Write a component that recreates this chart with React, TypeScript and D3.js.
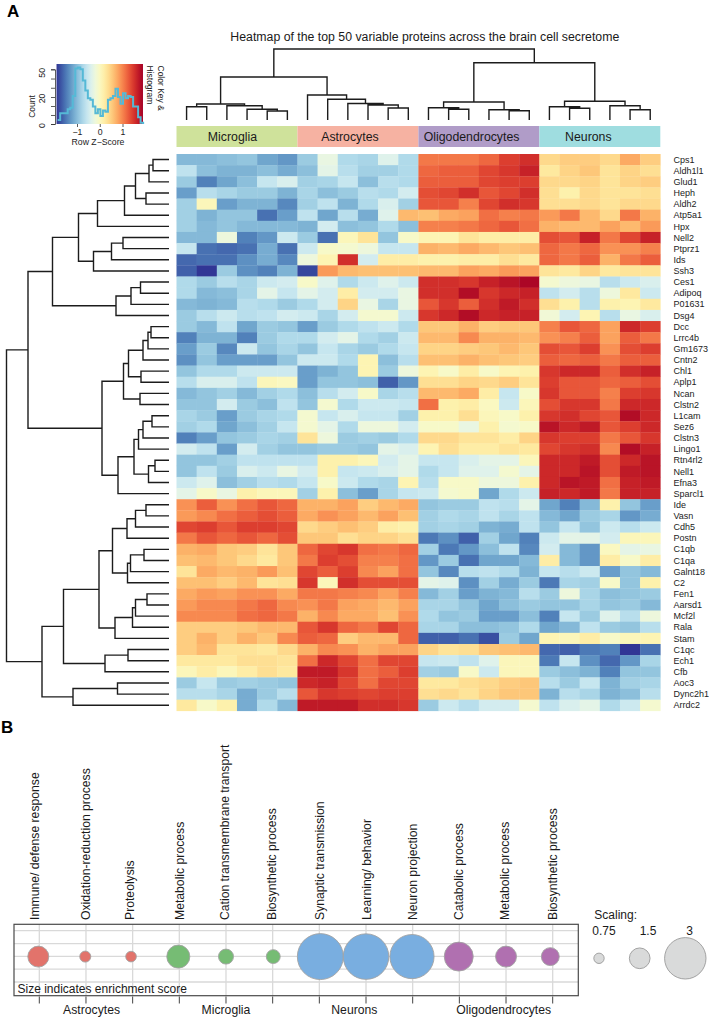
import * as React from 'react';
import { useEffect, useRef } from 'react';
import * as d3 from 'd3';

const FONT = '"Liberation Sans", Arial, sans-serif';

const cellTypes = ['Microglia', 'Astrocytes', 'Oligodendrocytes', 'Neurons'];
const cellTypeColors = ['#cfe29b', '#f6b2a2', '#b09cc8', '#9fdde0'];
const cellTypeLabelNudge = [-4.5, -8, -7.3, -11.5];

const rowLabels = [
  'Cps1', 'Aldh1l1', 'Glud1', 'Heph', 'Aldh2', 'Atp5a1', 'Hpx', 'Nell2', 'Ptprz1', 'Ids',
  'Ssh3', 'Ces1', 'Adipoq', 'P01631', 'Dsg4', 'Dcc', 'Lrrc4b', 'Gm1673', 'Cntn2', 'Chl1',
  'Aplp1', 'Ncan', 'Clstn2', 'L1cam', 'Sez6', 'Clstn3', 'Lingo1', 'Rtn4rl2', 'Nell1', 'Efna3',
  'Sparcl1', 'Ide', 'Vasn', 'Cdh5', 'Postn', 'C1qb', 'C1qa', 'Galnt18', 'C2', 'Fen1',
  'Aarsd1', 'Mcf2l', 'Rala', 'Stam', 'C1qc', 'Ech1', 'Cfb', 'Aoc3', 'Dync2h1', 'Arrdc2',
];

// row z-scores, 6 samples per cell type
const zScores = [
  [-1, -1, -.95, -.9, -1.15, -1.25, -.85, -.25, -.7, -.75, -.35, -.7, 1.05, 1.05, 1.05, 1.15, 1.4, 1.5, .4, .5, .5, .4, .75, .5],
  [-.6, -.95, -1.05, -1.05, -.95, -1.1, -.95, -.3, -.65, -.8, -.8, -.7, 1.15, 1.2, 1.2, 1.35, 1.45, 1.6, .25, .45, .55, .3, .45, .35],
  [-.85, -1.4, -1.15, -.95, -.55, -.4, -.8, -.75, -.55, -.95, -.65, -.7, 1.2, 1.2, 1.2, 1.35, 1.4, 1.4, .4, .4, .45, .3, .45, .5],
  [-1.2, -.65, -.75, -.85, -.85, -1.05, -.75, -.95, -.85, -.65, -.7, -.45, 1.3, 1.35, 1.5, 1.25, 1.35, 1.5, .35, .15, .4, .3, .3, .35],
  [-.8, .05, -1.2, -1.05, -1.05, -1.35, -.8, -.6, -1.05, -.7, -.4, -.8, 1.25, 1.25, 1, 1.35, 1.5, 1.45, .35, .35, .4, .3, .4, .4],
  [-.8, -1.05, -.9, -.9, -1.5, -1.2, -.6, -1.15, -.65, -1.1, -.35, .65, .6, .75, .8, 1.1, 1, 1.05, .85, 1.05, .65, .4, 1.05, .7],
  [-.8, -1, -.9, -1, -1, -1, -1.05, -.45, -.95, -.9, -.7, -.95, 1, 1, 1.05, 1.15, 1.25, 1.1, .7, .65, .65, .8, .65, .85],
  [-1, -1, -.2, -1.4, -1.25, -.5, -.85, -1.5, .05, .3, -.9, -.05, .1, .1, .3, .2, .2, .2, 1.3, 1.25, 1.6, 1.05, 1.35, 1.6],
  [-.55, -1.5, -1.55, -1.5, -1.1, -1.5, -.5, -.05, -.1, -.2, -.55, -.55, .7, .65, .75, .65, .55, .6, 1.15, 1.05, 1.15, .9, .9, 1],
  [-1.55, -1.5, -1.5, -1.3, -1.1, -1.35, -.2, .1, 1.5, -.45, .2, .2, .15, .15, .2, .2, .35, .25, 1.15, 1.05, 1.2, .7, 1.05, 1.2],
  [-1.6, -1.85, -.85, -1.3, -1.4, -1.05, -1.75, .85, .65, .6, .6, .6, .65, .65, .8, .75, .85, .8, .3, .25, .45, .25, .3, .3],
  [-.7, -.85, -.65, -.75, -.5, -.45, -.05, -.35, -.7, -.5, -.35, -.5, 1.5, 1.5, 1.45, 1.6, 1.7, 1.8, -.1, -.2, -.25, -.65, -.5, -.4],
  [-.7, -1, -.95, -.75, -.3, -.55, -.3, -.45, .2, -.45, -.45, -.25, 1.5, 1.5, 1.75, 1.45, 1.55, 1.6, -.6, -.45, -.65, -.2, .25, -.5],
  [-1, -1.05, -1, -.65, -.7, -.85, -.7, -.45, .45, -.25, -.75, -.25, 1.25, 1.45, 1.2, 1.5, 1.65, 1.5, .35, .15, -.65, .15, .1, .25],
  [-.85, -.65, -.5, -.65, -.6, -.45, -.5, -.75, -.45, -.1, -.1, -.5, 1.45, 1.55, 1.75, 1.55, 1.6, 1.6, -.15, -.45, .1, -.65, -.25, -.4],
  [-.85, -1, -.6, -1.15, -.85, -.9, -1.2, -.85, -.7, -.6, -.5, -.7, .55, .55, .7, .5, .55, .55, 1, 1.25, 1.15, .8, 1.55, 1.4],
  [-1.4, -1.05, -1.05, -1.4, -.85, -.7, -.7, -.45, -.3, -.7, -.8, -.5, .65, .65, .95, .7, .7, .65, .9, 1, 1.2, .8, 1.2, 1.05],
  [-1.2, -.85, -1.35, -.5, -.9, -.75, -.9, -.55, -.75, -.85, -.7, -.55, .45, .45, .5, .55, .65, .55, 1.3, 1.25, 1.4, .9, 1.3, 1.4],
  [-1.3, -.9, -1.2, -1.2, -1.2, -.9, -.5, -.5, -.7, .1, -.95, -.65, .6, .6, .7, .6, .55, .5, 1.2, 1.15, 1.2, 1.05, 1.2, 1.2],
  [-.9, -.7, -.7, -.5, -.5, -.5, -1.2, -1.05, -.9, .1, -.85, -.2, .1, -.05, .2, -.05, .1, .15, 1.45, 1.55, 1.55, 1.2, 1.5, 1.6],
  [-.65, -.4, -.4, -.6, .05, 0, -1.2, -.9, -.9, -.95, -1.6, -1.25, .35, .35, .45, .4, .5, .3, 1.4, 1.25, 1.25, 1.15, 1.2, 1.3],
  [-1, -.9, -.8, -1, -.8, -.7, -.95, -.65, -.45, -.05, -.75, -.65, .65, .65, .75, .2, -.55, -.05, 1.45, 1.25, 1.25, 1, 1.4, 1.45],
  [-.9, -.9, -.45, -.85, -.95, -.6, -.9, -.1, -.7, -.5, -.5, -.55, 1.1, .15, .2, 0, -.5, .05, 1.3, 1.45, 1.45, 1.05, 1.55, 1.55],
  [-.75, -.85, -1.2, -.85, -.75, -.7, -.1, -.55, -.4, -.55, -.55, -.8, .15, .15, .35, .05, -.05, .15, 1.45, 1.5, 1.35, 1.25, 1.75, 1.55],
  [-.8, -.7, -1.15, -.95, -.8, -.55, -.1, -.3, -.7, -.2, -.2, -.45, -.05, -.05, -.25, .15, -.1, -.05, 1.7, 1.55, 1.65, 1.25, 1.4, 1.55],
  [-1.4, -1.2, -.9, -.85, -.75, -.8, .3, -.2, -.85, -.8, -.85, -.7, .4, .4, .3, .3, .2, .45, 1.45, 1.4, 1.4, 1.05, 1.25, 1.45],
  [-.45, -.6, -1.2, -.45, -.8, -.9, -.9, -.85, -.85, -.9, -.3, -.4, .1, .35, .2, .2, .3, .25, 1.35, 1.45, 1.5, .95, 1.75, 1.6],
  [-.9, -.9, -.8, -.6, -.6, -.6, -.6, .15, .15, .05, -.45, -.3, -.55, -.55, -.4, -.3, -.3, .05, 1.55, 1.55, 1.65, 1.3, 1.55, 1.7],
  [-.9, -.6, -.85, -.4, -.5, -.25, -.45, .15, -.55, -.5, -.4, -.3, -.7, -.55, -.35, -.35, -.1, -.3, 1.55, 1.55, 1.7, 1.3, 1.65, 1.7],
  [-.5, -.35, -.95, -.8, -.65, -.7, -.55, -.05, -.5, -.7, -.75, .1, -.65, -.05, -.05, -.2, -.2, .15, 1.55, 1.7, 1.65, 1.1, 1.6, 1.65],
  [-.3, -.05, -.25, .15, .05, .05, -.8, .15, -.95, -1.2, -.75, -.55, -.5, -.1, -.05, -1.15, -.7, -.5, 1.6, 1.55, 1.65, 1.05, 1.6, 1.6],
  [.9, 1.2, .9, 1.1, 1.25, 1.15, .7, .7, .8, .5, .65, .75, -.9, -.85, -.85, -.6, -.65, -.3, -1.15, -1.4, -1, .15, -.9, -1.2],
  [.85, .95, 1.1, 1.2, 1.3, 1.2, .75, .9, .8, .65, .8, .6, -.8, -.7, -.75, -.6, -.75, -.6, -1, -1.15, -.85, -.75, -1.25, -1.1],
  [1.35, 1.4, 1.25, 1.4, 1.4, 1.35, .4, .5, .6, .5, .2, .15, -.8, -.75, -.8, -1.05, -1.1, -.6, -.9, -.55, -.9, -.5, -.65, -.5],
  [1.05, 1.25, 1.15, 1.25, 1.15, 1.3, .55, .55, .35, .45, .45, .35, -1.45, -1.3, -1.6, -.8, -1.15, -1.4, -.5, -.3, -.3, -.45, .05, .05],
  [.7, .75, .55, .5, .3, .55, 1.15, 1.35, 1.45, 1.1, 1.05, 1.15, -.8, -1.45, -1.25, -.95, -.6, -1.35, -.45, -1, -1.25, 0, -.3, -.25],
  [.6, .65, .55, .4, .25, .55, 1.05, 1.4, 1.3, 1, 1, 1.1, -1.25, -.85, -1.5, -1.15, -1.15, -1, .2, -1, -1.25, .2, -.05, .2],
  [.3, .75, .65, .7, .85, .6, 1.35, 1.2, 1.4, .95, .8, 1.1, -.9, -1.35, -.65, -.6, -.7, -1.05, -.55, -.65, -.5, -1.2, -.9, -1],
  [.6, .6, .5, .65, .3, .35, 1.45, .05, 1.5, 1.3, 1.3, 1.3, -.3, -.35, -1.3, -.8, -1.1, -.85, -1.45, -.75, -.8, -.05, -.9, .15],
  [.75, .85, .8, .9, .9, .75, 1.05, 1.05, 1, .95, .8, 1, -1, -.8, -1.2, -1.05, -1, -.65, -.85, -.2, -.75, -.95, -.9, -.85],
  [.85, .95, .95, 1.05, 1.15, .95, .9, 1.05, .8, .75, .65, .8, -.75, -.75, -.9, -1.15, -.95, -.85, -.9, -.9, -.75, -.9, -.85, -1],
  [.95, .95, .95, 1.1, 1.15, 1.05, .7, .95, .75, .75, .6, .9, -.7, -.9, -.85, -1.2, -1.2, -.95, -1.4, -.55, -.85, -.35, -.65, -.2],
  [.5, .5, .5, .55, .65, .65, 1.25, 1.45, 1.15, 1.05, 1.35, 1.15, -.75, -.75, -.95, -.95, -.9, -.7, -1.15, -1, -.6, -.85, -.9, -.65],
  [.5, .7, .5, .7, .55, .95, 1.2, 1.15, .5, .65, .65, 1.15, -1.6, -1.6, -1.5, -1.7, -.85, -1.15, .1, .05, .2, -.05, .05, .1],
  [.5, .65, .3, .3, .25, .4, .7, .95, .9, .7, .8, .8, .45, .3, .35, .55, .6, .65, -1.55, -1.6, -1.45, -1.4, -1.85, -1.5],
  [.25, .25, .25, .35, .35, .3, 1.1, 1.55, 1.35, 1.1, 1.35, 1.35, -.55, -.5, -.6, -.35, .05, .05, -1.45, -.55, -1.3, -1.55, -1.25, -.75],
  [.05, .2, .05, .2, .35, .25, 1.65, 1.65, 1.45, 1.1, 1.2, 1.4, -.8, -.85, -.05, -.5, .05, .05, -.85, -.95, -1.05, -1.4, -.9, -.9],
  [-.85, -.55, -.85, -.8, -.85, -.9, 1.55, 1.6, 1.35, 1.1, 1.35, 1.35, .25, .25, .35, .4, .5, .55, -.65, -.85, -.55, -1.05, -.8, -.75],
  [-.65, -.65, -.75, -1.1, -.85, -.65, 1.25, 1.45, 1.4, 1.35, 1.4, 1.4, .35, .4, .3, .45, .55, .55, -1.05, -.65, -.75, -1.05, -.95, -.65],
  [.25, -.05, .15, -1.1, -.7, -1, 1.65, 1.65, 1.65, 1.5, 1.5, 1.45, -.85, -.5, -.65, -.45, -.45, -.1, -.6, -.4, -.3, -.7, -.5, -.1],
];

// dendrograms as [merge height, left, right], leaves are row / column numbers
const rowTree: any = [16.25,
  [14.1,
    [11.65,
      [9.05,
        [7.15,
          [4.45, [3.35, [2.0, [1.6, 0, 1], 2], [2.3, 3, 4]], 5],
          6],
        [7.55, [5.75, [4.6, 7, 8], 9], 10]],
      [5.3, [3.8, [2.85, 11, 12], 13], 14]],
    [6.7,
      [4.55,
        [4.05, [2.6, [2.1, [1.8, 15, 16], 17], 18], [2.8, 19, 20]],
        [2.9, 21, 22]],
      [5.1,
        [3.5, [3.05, [2.6, [1.7, 23, 24], 25], 26], [2.05, [1.4, 27, 28], 29]],
        30]]],
  [12.7,
    [10.55,
      [7.0,
        [5.65,
          [4.2, [3.35, [2.3, 31, 32], 33], 34],
          [4.15, [3.85, [2.5, 35, 36], 37], 38]],
        [5.4, [3.65, [3.35, [2.2, 39, 40], 41], 42], 43]],
      [6.4, [4.1, 44, 45], 46]],
    [9.6, [5.15, 47, 48], 49]]];

const colTree: any = [71,
  [43,
    [16, [13.3, 0, 1], [14.3, 2, [10.7, 3, [9, 4, 5]]]],
    [25, 6, [20.7, 7, [16.5, 8, [15, 9, [12, 10, 11]]]]]],
  [57.3,
    [18, [12.3, 12, [10.7, 13, 14]], [10.3, 15, [9.3, 16, 17]]],
    [18.7, [13.3, 18, [11.7, 19, 20]], [14.3, 21, [10.3, 22, 23]]]]];

// colour key histogram
const histCounts = [3, 8, 8, 8, 11, 12, 21, 51, 52, 50, 38, 27, 19, 18, 13, 8, 11, 6, 10, 9, 18, 19, 21, 29, 20, 15, 24, 19, 21, 20, 13, 13, 5, 1];
const histStart = -1.85;
const histBin = 0.1105;
const countTickValues = [0, 6.67, 13.33, 20, 30, 40, 50];
const countTickLabels = ['0', '', '', '20', '', '', '50'];

// panel B
const terms = [
  'Immune/ defense response', 'Oxidation-reduction process', 'Proteolysis',
  'Metabolic process', 'Cation transmembrane transport', 'Biosynthetic process',
  'Synaptic transmission', 'Learning/ behavior', 'Neuron projection',
  'Catabolic process', 'Metabolic process', 'Biosynthetic process',
];
const enrichment = [1.52, 0.8, 0.77, 1.67, 1.09, 1.01, 3.33, 3.3, 3.2, 2.1, 1.52, 1.3];
const termGroup = [0, 0, 0, 1, 1, 1, 2, 2, 2, 3, 3, 3];
const groupNames = ['Astrocytes', 'Microglia', 'Neurons', 'Oligodendrocytes'];
const groupColors = ['#e2736b', '#76bc74', '#79aee0', '#b070b0'];
const groupCenters = [1.12, 4, 6.75, 9.95];
const gridLevels = [0, 1, 2, 3, 4];
const scaleValues = [0.75, 1.5, 3];

const labelNudge = [-4.3, 0, -2.6, 0, -1.4, -.7, 0, .7, 0, -.6, -1.7, 0];
const bubbleNudge = [-1, -.7, -1.6, -1, 0, .6, 1, 0, -.7, -.6, 0, -2.4];

const App: React.FC = () => {
  const svgRef = useRef<SVGSVGElement>(null);

  useEffect(() => {
    if (!svgRef.current) return;
    const svg = d3.select(svgRef.current);
    svg.selectAll('*').remove();
    svg.attr('font-family', FONT);

    const color = (z: number) => d3.interpolateRdYlBu(0.5 - z / 3.7);

    const x = d3.scaleBand<number>().domain(d3.range(24)).range([176.5, 660.3]);
    const y = d3.scaleBand<number>().domain(d3.range(50)).range([154, 710.8]);
    const groupX = d3.scaleBand<string>().domain(cellTypes).range([176.5, 660.3]);

    // heatmap cells
    const heat = svg.append('g');
    zScores.forEach((row, r) => {
      heat.selectAll(null)
        .data(row)
        .enter()
        .append('rect')
        .attr('x', (_, c) => x(c)!)
        .attr('y', y(r)!)
        .attr('width', x.bandwidth() + 0.3)
        .attr('height', y.bandwidth() + 0.3)
        .attr('fill', d => color(d));
    });

    // row labels
    svg.append('g')
      .selectAll('text')
      .data(rowLabels)
      .enter()
      .append('text')
      .attr('x', 673.5)
      .attr('y', (_, i) => y(i)! + y.bandwidth() / 2)
      .attr('dy', '0.35em')
      .attr('font-size', 9)
      .attr('fill', '#222')
      .text(d => d);

    // cell type colour bar
    const bar = svg.append('g');
    bar.selectAll('rect')
      .data(cellTypes)
      .enter()
      .append('rect')
      .attr('x', d => groupX(d)!)
      .attr('y', 126)
      .attr('width', groupX.bandwidth())
      .attr('height', 21)
      .attr('fill', (_, i) => cellTypeColors[i]);
    bar.selectAll('text')
      .data(cellTypes)
      .enter()
      .append('text')
      .attr('x', (d, i) => groupX(d)! + groupX.bandwidth() / 2 + cellTypeLabelNudge[i])
      .attr('y', 136.5)
      .attr('dy', '0.35em')
      .attr('text-anchor', 'middle')
      .attr('font-size', 12.3)
      .attr('fill', '#1a1a1a')
      .text(d => d);

    // dendrograms
    const kids = (d: any) => (Array.isArray(d) ? d.slice(1) : null);
    const drawTree = (tree: any, leafPos: (i: number) => number, heightPos: (h: number) => number, vertical: boolean) => {
      const root = d3.hierarchy<any>(tree, kids);
      const pos = new Map<any, number>();
      const d = d3.path();
      root.eachAfter(n => {
        if (!n.children) {
          pos.set(n, leafPos(n.data));
          return;
        }
        const [a, b] = n.children;
        const pa = pos.get(a)!;
        const pb = pos.get(b)!;
        pos.set(n, (pa + pb) / 2);
        const h = heightPos(n.data[0]);
        const ha = heightPos(a.children ? a.data[0] : 0);
        const hb = heightPos(b.children ? b.data[0] : 0);
        if (vertical) {
          d.moveTo(pa, ha);
          d.lineTo(pa, h);
          d.lineTo(pb, h);
          d.lineTo(pb, hb);
        } else {
          d.moveTo(ha, pa);
          d.lineTo(h, pa);
          d.lineTo(h, pb);
          d.lineTo(hb, pb);
        }
      });
      svg.append('path')
        .attr('d', d.toString())
        .attr('fill', 'none')
        .attr('stroke', '#1c1c1c')
        .attr('stroke-width', 1.4);
    };
    drawTree(rowTree, i => y(i)! + y.bandwidth() / 2, d3.scaleLinear([0, 16.25], [169, 6.5]), false);
    drawTree(colTree, i => x(i)! + x.bandwidth() / 2, d3.scaleLinear([0, 71], [120, 49]), true);

    // titles
    svg.append('text')
      .attr('x', 424.8)
      .attr('y', 37)
      .attr('dy', '0.35em')
      .attr('text-anchor', 'middle')
      .attr('font-size', 12.3)
      .attr('fill', '#1a1a1a')
      .text('Heatmap of the top 50 variable proteins across the brain cell secretome');
    svg.append('text').attr('x', 7).attr('y', 17).attr('font-size', 17).attr('font-weight', 'bold').text('A');
    svg.append('text').attr('x', 1).attr('y', 733).attr('font-size', 17).attr('font-weight', 'bold').text('B');

    // colour key
    const keyX = d3.scaleLinear([-1, 1], [77, 122.5]);
    const keyY = d3.scaleLinear([0, 20, 50], [124, 97, 69.3]);
    const defs = svg.append('defs');
    const grad = defs.append('linearGradient').attr('id', 'keyGradient');
    grad.selectAll('stop')
      .data(d3.range(0, 1.001, 0.05))
      .enter()
      .append('stop')
      .attr('offset', d => d)
      .attr('stop-color', d => color(-1.85 + d * 3.7));
    svg.append('rect')
      .attr('x', keyX(-1.9))
      .attr('y', 64)
      .attr('width', keyX(1.9) - keyX(-1.9))
      .attr('height', 60)
      .attr('fill', 'url(#keyGradient)');

    const hist = d3.line<number>()
      .x((_, i) => keyX(histStart + i * histBin))
      .y(d => keyY(d))
      .curve(d3.curveStepAfter);
    svg.append('path')
      .attr('d', hist([...histCounts, 0]))
      .attr('fill', 'none')
      .attr('stroke', '#55b9d6')
      .attr('stroke-width', 2);

    const keyAxisY = svg.append('g')
      .attr('transform', 'translate(55,0)')
      .call(d3.axisLeft(keyY).tickValues(countTickValues).tickSize(4).tickFormat((_, i) => countTickLabels[i]));
    keyAxisY.select('.domain').attr('stroke', '#333').attr('stroke-width', 0.8);
    keyAxisY.selectAll('line').attr('stroke', '#333').attr('stroke-width', 0.8);
    keyAxisY.selectAll('text')
      .attr('font-family', FONT)
      .attr('font-size', 8.7)
      .attr('fill', '#222')
      .attr('text-anchor', 'middle')
      .attr('x', 0)
      .attr('y', 0)
      .attr('dy', 0)
      .attr('transform', (_, i) => `translate(-10,${i === 6 ? 3 : 1}) rotate(-90)`);

    const keyAxisX = svg.append('g')
      .attr('transform', 'translate(0,124)')
      .call(d3.axisBottom(keyX).tickValues([-1, 0, 1]).tickSize(3).tickPadding(2).tickFormat(d3.format('d')));
    keyAxisX.select('.domain').remove();
    keyAxisX.selectAll('line').attr('stroke', '#333').attr('stroke-width', 0.8);
    keyAxisX.selectAll('text').attr('font-family', FONT).attr('font-size', 8.7).attr('fill', '#222');

    svg.append('text')
      .attr('x', 98)
      .attr('y', 141.6)
      .attr('dy', '0.35em')
      .attr('text-anchor', 'middle')
      .attr('font-size', 8.7)
      .attr('fill', '#222')
      .text('Row Z\u2212Score');
    svg.append('text')
      .attr('transform', 'translate(32,106.5) rotate(-90)')
      .attr('dy', '0.35em')
      .attr('text-anchor', 'middle')
      .attr('font-size', 8.5)
      .attr('fill', '#222')
      .text('Count');
    [['Color Key &', 160.5], ['Histogram', 149.5]].forEach(([t, px]) => {
      svg.append('text')
        .attr('transform', `translate(${px},65.5) rotate(90)`)
        .attr('dy', '0.35em')
        .attr('font-size', 8.5)
        .attr('fill', '#222')
        .text(t as string);
    });

    // panel B
    const termX = d3.scaleLinear([0, 11], [39.3, 552.7]);
    const gridY = d3.scaleLinear([0, 4], [930.7, 982]);
    const radius = d3.scaleLinear([0, 3], [0, 20.7]);
    const bubbleY = 956.6;

    const grid = svg.append('g').attr('stroke', '#d9d9d9').attr('stroke-width', 1.3);
    grid.selectAll('.h')
      .data(gridLevels)
      .enter()
      .append('line')
      .attr('x1', 14)
      .attr('x2', 578)
      .attr('y1', d => gridY(d))
      .attr('y2', d => gridY(d));
    grid.selectAll('.v')
      .data(terms)
      .enter()
      .append('line')
      .attr('x1', (_, i) => termX(i))
      .attr('x2', (_, i) => termX(i))
      .attr('y1', 924)
      .attr('y2', 996);

    svg.append('rect')
      .attr('x', 14)
      .attr('y', 924.3)
      .attr('width', 564.3)
      .attr('height', 71.4)
      .attr('fill', 'none')
      .attr('stroke', '#4a4a4a')
      .attr('stroke-width', 1.2);

    svg.append('g')
      .selectAll('circle')
      .data(enrichment)
      .enter()
      .append('circle')
      .attr('cx', (_, i) => termX(i) + bubbleNudge[i])
      .attr('cy', bubbleY)
      .attr('r', d => radius(d))
      .attr('fill', (_, i) => groupColors[termGroup[i]])
      .attr('stroke', '#a3a3a3')
      .attr('stroke-width', 0.9);

    svg.append('g')
      .selectAll('text')
      .data(terms)
      .enter()
      .append('text')
      .attr('transform', (_, i) => `translate(${termX(i) + labelNudge[i]},920) rotate(-90)`)
      .attr('dy', '0.35em')
      .attr('font-size', 12.2)
      .attr('fill', '#1a1a1a')
      .text(d => d);

    svg.append('text')
      .attr('x', 17.5)
      .attr('y', 988.5)
      .attr('dy', '0.35em')
      .attr('font-size', 12)
      .attr('fill', '#1a1a1a')
      .text('Size indicates enrichment score');

    svg.append('g')
      .selectAll('line')
      .data(terms)
      .enter()
      .append('line')
      .attr('x1', (_, i) => termX(i))
      .attr('x2', (_, i) => termX(i))
      .attr('y1', 996.5)
      .attr('y2', 1003.5)
      .attr('stroke', '#444')
      .attr('stroke-width', 1);

    svg.append('g')
      .selectAll('text')
      .data(groupNames)
      .enter()
      .append('text')
      .attr('x', (_, i) => termX(groupCenters[i]))
      .attr('y', 1010)
      .attr('dy', '0.35em')
      .attr('text-anchor', 'middle')
      .attr('font-size', 12.2)
      .attr('fill', '#1a1a1a')
      .text(d => d);

    // size legend
    const legendCircleX = d3.scaleOrdinal<number, number>().domain(scaleValues).range([599, 639.7, 685.3]);
    const legendTextX = d3.scaleOrdinal<number, number>().domain(scaleValues).range([604, 648, 689.7]);
    svg.append('text').attr('x', 594.3).attr('y', 919).attr('font-size', 12).attr('fill', '#1a1a1a').text('Scaling:');
    const legend = svg.append('g');
    legend.selectAll('circle')
      .data(scaleValues)
      .enter()
      .append('circle')
      .attr('cx', d => legendCircleX(d))
      .attr('cy', 958.3)
      .attr('r', d => radius(d))
      .attr('fill', '#d9dada')
      .attr('stroke', '#9a9a9a')
      .attr('stroke-width', 0.9);
    legend.selectAll('text')
      .data(scaleValues)
      .enter()
      .append('text')
      .attr('x', d => legendTextX(d))
      .attr('y', 930.5)
      .attr('dy', '0.35em')
      .attr('text-anchor', 'middle')
      .attr('font-size', 12)
      .attr('fill', '#1a1a1a')
      .text(d => String(d));
  }, []);

  return (
    <svg
      ref={svgRef}
      width={709}
      height={1018}
      viewBox="0 0 709 1018"
      style={{ position: 'absolute', left: 0, top: 0, display: 'block', background: '#fff' }}
    />
  );
};

export default App;
